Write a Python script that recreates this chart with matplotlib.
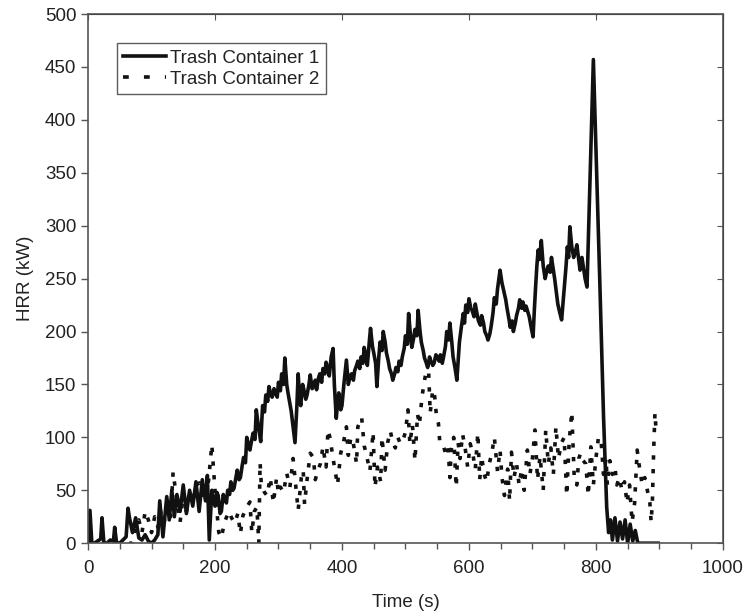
import matplotlib
matplotlib.use('Agg')
import matplotlib.pyplot as plt
from matplotlib.lines import Line2D
from matplotlib.ticker import MultipleLocator

plt.rcParams['font.family'] = ['Liberation Sans', 'DejaVu Sans']

# Trash Container 1 (solid): (time s, HRR kW)
container1 = [
    (0, 0), (3, 31), (6, 0), (10, 0), (15, 2), (20, 4), (22, 24), (25, 0), (30, 0),
    (35, 3), (40, 2), (42, 15), (45, 0), (50, 0), (55, 3), (60, 6), (63, 33), (65, 25),
    (70, 10), (75, 24), (80, 5), (85, 3), (90, 8), (95, 2), (100, 0), (105, 3), (110, 8),
    (113, 40), (118, 6), (124, 44), (128, 22), (132, 50), (136, 25), (140, 46), (145, 30),
    (150, 55), (155, 28), (160, 50), (165, 35), (170, 58), (175, 30), (180, 60), (185, 40),
    (188, 64), (191, 3), (195, 50), (200, 35), (203, 48), (205, 45), (208, 28), (210, 30),
    (213, 46), (215, 42), (218, 38), (220, 50), (223, 46), (225, 58), (228, 50), (230, 52),
    (233, 62), (235, 69), (238, 60), (240, 62), (243, 74), (245, 81), (248, 76), (250, 100),
    (253, 92), (255, 88), (258, 98), (260, 104), (263, 98), (265, 126), (268, 112), (272, 96),
    (275, 130), (278, 124), (280, 140), (283, 134), (285, 148), (288, 140), (290, 138),
    (293, 146), (295, 142), (298, 138), (300, 152), (303, 144), (305, 160), (308, 150),
    (310, 175), (313, 150), (315, 142), (318, 132), (320, 125), (323, 110), (326, 95),
    (329, 130), (331, 160), (333, 140), (335, 130), (338, 150), (340, 145), (343, 136),
    (345, 140), (348, 150), (350, 159), (353, 146), (355, 148), (358, 154), (360, 145),
    (363, 156), (365, 160), (368, 152), (370, 165), (373, 160), (375, 171), (378, 164),
    (380, 158), (383, 176), (386, 184), (388, 150), (391, 118), (393, 132), (395, 142),
    (398, 126), (400, 130), (403, 150), (407, 173), (410, 150), (413, 158), (415, 160),
    (418, 154), (420, 163), (423, 168), (425, 172), (428, 165), (430, 176), (433, 170),
    (435, 185), (438, 176), (440, 168), (443, 190), (445, 203), (448, 186), (450, 180),
    (453, 170), (455, 148), (458, 176), (460, 190), (463, 182), (465, 200), (468, 190),
    (470, 180), (473, 172), (475, 165), (478, 160), (480, 154), (483, 160), (485, 166),
    (488, 162), (490, 172), (493, 168), (495, 176), (498, 184), (500, 196), (503, 188),
    (505, 217), (508, 196), (510, 185), (513, 194), (515, 202), (518, 196), (520, 220),
    (523, 200), (525, 190), (528, 182), (530, 175), (533, 170), (535, 166), (538, 176),
    (540, 172), (543, 168), (545, 170), (548, 178), (550, 176), (553, 172), (555, 178),
    (558, 170), (560, 176), (563, 186), (565, 200), (568, 192), (570, 208), (573, 190),
    (575, 176), (578, 166), (581, 154), (583, 172), (585, 190), (588, 204), (591, 217),
    (593, 208), (595, 225), (598, 218), (600, 231), (603, 222), (605, 220), (608, 214),
    (610, 226), (613, 216), (615, 210), (618, 206), (620, 215), (623, 208), (625, 200),
    (628, 196), (630, 192), (633, 198), (635, 205), (638, 218), (640, 232), (643, 226),
    (645, 240), (649, 258), (652, 246), (655, 238), (658, 230), (660, 222), (663, 212),
    (665, 204), (668, 210), (670, 200), (673, 208), (675, 215), (678, 222), (680, 230),
    (683, 222), (685, 228), (688, 220), (690, 224), (693, 218), (695, 214), (698, 204),
    (701, 195), (703, 220), (705, 242), (707, 262), (709, 277), (711, 268), (714, 286),
    (717, 262), (720, 250), (723, 258), (725, 262), (728, 256), (730, 270), (733, 258),
    (735, 250), (738, 236), (740, 226), (743, 218), (746, 211), (748, 226), (750, 240),
    (753, 262), (755, 280), (757, 270), (759, 299), (762, 280), (765, 270), (768, 276),
    (770, 282), (773, 268), (775, 258), (778, 270), (780, 262), (783, 250), (786, 242),
    (791, 350), (796, 457), (801, 355), (806, 250), (812, 120), (817, 34), (820, 10),
    (823, 22), (826, 3), (830, 24), (834, 2), (838, 20), (842, 4), (846, 22), (850, 0),
    (854, 18), (858, 2), (862, 12), (866, 0), (870, 0), (898, 0),
]

# Trash Container 2 (dashed)
container2 = [
    (0, 0), (70, 0), (75, 15), (80, 22), (85, 10), (90, 30), (95, 22), (100, 10), (105, 25),
    (110, 15), (115, 30), (120, 20), (125, 35), (130, 25), (134, 67), (140, 40), (145, 20),
    (150, 45), (155, 30), (160, 50), (165, 38), (170, 55), (176, 57), (180, 45), (185, 40),
    (190, 60), (195, 93), (200, 50), (206, 10), (210, 5), (215, 20), (222, 30), (226, 24),
    (231, 19), (236, 28), (240, 9), (244, 26), (250, 34), (255, 39), (258, 10), (262, 30),
    (266, 34), (269, 0), (271, 76), (273, 55), (278, 48), (282, 45), (287, 62), (292, 38),
    (297, 62), (300, 47), (303, 53), (308, 48), (313, 66), (318, 53), (323, 80), (328, 50),
    (331, 31), (336, 62), (339, 69), (341, 37), (345, 60), (350, 85), (355, 81), (358, 60),
    (362, 69), (366, 75), (370, 91), (375, 72), (378, 107), (381, 100), (386, 80), (389, 69),
    (393, 55), (398, 85), (402, 94), (407, 110), (410, 83), (414, 100), (418, 94), (423, 75),
    (425, 110), (431, 119), (435, 92), (438, 85), (444, 68), (449, 105), (452, 53), (456, 72),
    (461, 58), (463, 100), (468, 69), (472, 95), (476, 106), (480, 96), (484, 90), (488, 100),
    (492, 94), (496, 97), (500, 105), (504, 126), (507, 94), (511, 112), (515, 78), (519, 122),
    (522, 112), (526, 138), (529, 150), (533, 164), (536, 170), (539, 123), (543, 145),
    (546, 139), (549, 119), (552, 113), (554, 96), (559, 94), (563, 85), (567, 91), (570, 62),
    (572, 88), (576, 100), (580, 53), (583, 95), (586, 80), (590, 103), (594, 90), (598, 72),
    (602, 94), (606, 85), (610, 70), (614, 104), (617, 60), (620, 82), (624, 65), (628, 58),
    (632, 75), (636, 85), (640, 100), (645, 68), (649, 88), (652, 62), (656, 45), (661, 70),
    (664, 40), (667, 86), (671, 62), (675, 75), (679, 55), (683, 70), (687, 50), (692, 88),
    (696, 65), (700, 80), (704, 107), (708, 60), (712, 82), (717, 50), (721, 107), (725, 75),
    (729, 90), (733, 65), (737, 110), (741, 80), (746, 95), (750, 100), (754, 45), (758, 97),
    (762, 124), (766, 60), (770, 55), (773, 80), (776, 85), (780, 78), (784, 75), (788, 45),
    (792, 91), (796, 55), (800, 80), (804, 100), (808, 98), (812, 65), (816, 80), (818, 55),
    (822, 78), (826, 65), (830, 72), (833, 55), (837, 62), (841, 50), (845, 58), (849, 38),
    (853, 55), (857, 20), (861, 38), (865, 88), (869, 70), (873, 55), (877, 62), (881, 50),
    (885, 38), (887, 20), (889, 40), (891, 88), (893, 123), (895, 105),
]

t1 = [p[0] for p in container1]
hrr1 = [p[1] for p in container1]
t2 = [p[0] for p in container2]
hrr2 = [p[1] for p in container2]

fig = plt.figure(figsize=(7.46, 6.11), dpi=100)
ax = fig.add_axes([0.118, 0.111, 0.851, 0.866])

ax.plot(t1, hrr1, color='#111111', lw=2.6)
ax.plot(t2, hrr2, color='#111111', lw=2.6, linestyle=(0, (1.2, 2.6)),
        dash_capstyle='butt')

ax.set_xlim(0, 1000)
ax.set_ylim(0, 500)
ax.xaxis.set_major_locator(MultipleLocator(200))
ax.xaxis.set_minor_locator(MultipleLocator(50))
ax.yaxis.set_major_locator(MultipleLocator(50))

for s in ax.spines.values():
    s.set_color('#555555')
    s.set_linewidth(1.2)

ax.tick_params(axis='both', which='both', direction='out', colors='#555555',
               labelcolor='#222222', labelsize=13.5, top=False, right=False)
ax.tick_params(axis='both', which='major', length=5, width=1)
ax.tick_params(axis='x', which='major', pad=7)
ax.tick_params(axis='x', which='minor', length=4, width=1)

top = ax.secondary_xaxis('top')
top.set_xticks([0, 200, 400, 600, 800, 1000])
top.tick_params(direction='in', length=4, colors='#555555', labeltop=False)
top.xaxis.set_ticklabels([])
right = ax.secondary_yaxis('right')
right.set_yticks(list(range(0, 501, 50)))
right.tick_params(direction='in', length=4, colors='#555555', labelright=False)
right.yaxis.set_ticklabels([])

ax.set_xlabel('Time (s)', fontsize=13.5, color='#222222', labelpad=12)
ax.set_ylabel('HRR (kW)', fontsize=13.5, color='#222222', labelpad=8)

# legend handles: the dashed one uses the wider gaps seen in the original legend
handles = [
    Line2D([], [], color='#111111', lw=2.6),
    Line2D([], [], color='#111111', lw=2.6, linestyle=(0, (1.6, 4.2)), dash_capstyle='butt'),
]
leg = ax.legend(handles, ['Trash Container 1', 'Trash Container 2'],
                loc='upper left', bbox_to_anchor=(0.045, 0.945), fontsize=13.5,
                frameon=True, fancybox=False, handlelength=2.3, handletextpad=0.2,
                borderpad=0.35, labelspacing=0.2, borderaxespad=0)
leg.get_frame().set_edgecolor('#333333')
leg.get_frame().set_linewidth(1.0)
for txt in leg.get_texts():
    txt.set_color('#222222')

fig.savefig('out.png', dpi=100)
